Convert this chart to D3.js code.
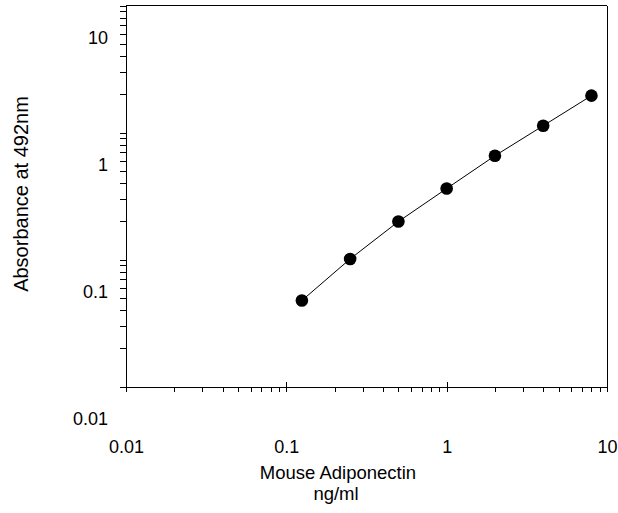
<!DOCTYPE html>
<html>
<head>
<meta charset="utf-8">
<script src="https://cdn.jsdelivr.net/npm/d3@7"></script>
<style>
  body { margin: 0; background: #fff; }
  svg { display: block; font-family: "Liberation Sans", Arial, sans-serif; }
  .axis text { font-size: 18px; fill: #000; font-family: "Liberation Sans", Arial, sans-serif; }
  .axis line, .axis path { stroke: #000; shape-rendering: crispEdges; }
</style>
</head>
<body>
<script>
// standard curve
var conc = [0.125, 0.25, 0.5, 1, 2, 4, 8]            // ng/ml
var absorb = [0.0475, 0.101, 0.199, 0.362, 0.656, 1.13, 1.95]

var xMajor = [0.01, 0.1, 1, 10]
var xLabels = ['0.01', '0.1', '1', '10']
var yMajor = [0.01, 0.1, 1, 10]
var yLabels = ['0.01', '0.1', '1', '10']

var data = conc.map(function(d, i){ return {conc: d, abs: absorb[i]} })

var totalWidth = 618, totalHeight = 513
var margin = {left: 126, right: 11, top: 5.5, bottom: 126.5}
var width = totalWidth - margin.left - margin.right
var height = totalHeight - margin.top - margin.bottom

var svg = d3.select('body').append('svg')
  .attr('width', totalWidth)
  .attr('height', totalHeight)

var g = svg.append('g')
  .attr('transform', 'translate(' + margin.left + ',' + margin.top + ')')

var x = d3.scaleLog().domain([0.01, 10]).range([0, width])
var y = d3.scaleLog().domain([0.01, 10]).range([height, 0])

function isMajor(list, v){
  return list.some(function(m){ return Math.abs(m - v) / m < 1e-6 })
}

// frame (top + right)
g.append('line').attr('x1', 0).attr('x2', width).attr('y1', 0).attr('y2', 0)
  .attr('stroke', '#000').attr('shape-rendering', 'crispEdges')
g.append('line').attr('x1', width).attr('x2', width).attr('y1', 0).attr('y2', height)
  .attr('stroke', '#000').attr('shape-rendering', 'crispEdges')

// x axis
var xAxis = d3.axisBottom(x)
  .tickValues(x.ticks())
  .tickSize(5)
  .tickSizeOuter(0)
  .tickFormat(function(d){
    var i = xMajor.findIndex(function(m){ return Math.abs(m - d) / m < 1e-6 })
    return i >= 0 ? xLabels[i] : ''
  })

var xg = g.append('g').attr('class', 'axis')
  .attr('transform', 'translate(0,' + height + ')')
  .call(xAxis)
xg.selectAll('.tick line').filter(function(d){ return isMajor(xMajor, d) }).attr('y1', -5)
xg.selectAll('.tick text').attr('y', 60).attr('dy', '0.35em')

// y axis
var yAxis = d3.axisLeft(y)
  .tickValues(y.ticks())
  .tickSize(6)
  .tickSizeOuter(0)
  .tickFormat(function(d){
    var i = yMajor.findIndex(function(m){ return Math.abs(m - d) / m < 1e-6 })
    return i >= 0 ? yLabels[i] : ''
  })

var yg = g.append('g').attr('class', 'axis').call(yAxis)
yg.selectAll('.tick text').attr('x', -18).attr('y', 32).attr('dy', '0.35em')

// titles
svg.append('text')
  .attr('x', 338).attr('y', 479)
  .attr('text-anchor', 'middle')
  .style('font-size', '18.5px')
  .text('Mouse Adiponectin')
svg.append('text')
  .attr('x', 336).attr('y', 500)
  .attr('text-anchor', 'middle')
  .style('font-size', '18.5px')
  .text('ng/ml')

svg.append('text')
  .attr('transform', 'translate(28,194) rotate(-90)')
  .attr('text-anchor', 'middle')
  .style('font-size', '20px')
  .text('Absorbance at 492nm')

// curve + points
var line = d3.line()
  .x(function(d){ return x(d.conc) })
  .y(function(d){ return y(d.abs) })

g.append('path')
  .attr('d', line(data))
  .attr('fill', 'none')
  .attr('stroke', '#000')
  .attr('stroke-width', 1)

g.selectAll('circle.pt').data(data).enter().append('circle')
  .attr('class', 'pt')
  .attr('cx', function(d){ return x(d.conc) })
  .attr('cy', function(d){ return y(d.abs) })
  .attr('r', 6.3)
  .attr('fill', '#000')
</script>
</body>
</html>
